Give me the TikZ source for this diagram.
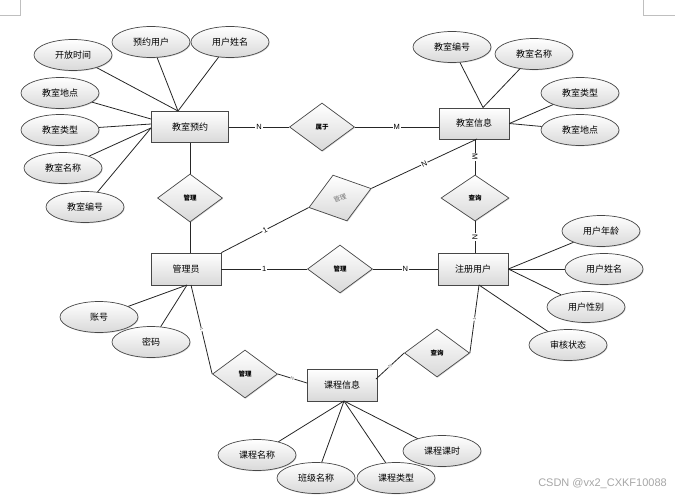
\documentclass[tikz,border=0pt]{standalone}
\usepackage{fontspec}
\setmainfont{Liberation Sans}
\newfontfamily\cjk{Noto Sans CJK SC}
\usetikzlibrary{shapes.geometric,shadows}
\begin{document}
\begin{tikzpicture}[x=1pt,y=-1pt,
  base/.style={draw=black!72, line width=0.7pt, top color=white, bottom color=black!15,
    inner sep=0pt, font=\cjk\fontsize{9}{10}\selectfont,
    drop shadow={shadow xshift=0.8pt, shadow yshift=-0.8pt, opacity=0.3}},
  attr/.style={base, ellipse, minimum width=78pt, minimum height=31pt},
  ent/.style={base, rectangle, minimum width=70pt, minimum height=32pt},
  rel/.style={base, diamond, minimum width=65pt, minimum height=48pt,
    font=\cjk\bfseries\fontsize{6.5}{7}\selectfont},
  conn/.style={draw=black!85, line width=0.8pt},
  lbl/.style={fill=white, inner sep=0.8pt, font=\fontsize{7.5}{8}\selectfont},
  lbls/.style={fill=white, inner sep=0.4pt, font=\fontsize{4.5}{5}\selectfont, text=black!60}
]
\useasboundingbox (0,0) rectangle (675,499);

% page corner marks
\draw[black!25, line width=0.6pt] (0,15) -- (20.5,15) -- (20.5,0);
\draw[black!25, line width=0.6pt] (675,15) -- (643,15) -- (643,0);

% entities
\node[ent, minimum width=77pt, minimum height=31pt] (yy) at (190,127) {教室预约};
\node[ent, minimum height=31pt] (xx) at (474,123.5) {教室信息};
\node[ent] (gly) at (186,269) {管理员};
\node[ent] (zc) at (473,269) {注册用户};
\node[ent] (kc) at (342,385) {课程信息};

% relationships
\node[rel] (sy) at (322,127) {属于};
\node[rel] (gl1) at (190,198) {管理};
\node[rel, rotate=17, text=black!55, font=\cjk\fontsize{6.5}{7}\selectfont] (gl2) at (340,198) {管理};
\node[rel, minimum width=68pt, minimum height=46pt] (cx1) at (475,198) {查询};
\node[rel] (gl3) at (340,269) {管理};
\node[rel] (gl4) at (245,374) {管理};
\node[rel] (cx2) at (437,353) {查询};

% attributes of 教室预约
\node[attr] (a1) at (73,55) {开放时间};
\node[attr] (a2) at (151,42) {预约用户};
\node[attr] (a3) at (230,42) {用户姓名};
\node[attr] (a4) at (60,93) {教室地点};
\node[attr] (a5) at (60,130) {教室类型};
\node[attr] (a6) at (63,168) {教室名称};
\node[attr] (a7) at (85,207) {教室编号};

% attributes of 教室信息
\node[attr] (b1) at (452,47) {教室编号};
\node[attr] (b2) at (534,54) {教室名称};
\node[attr] (b3) at (580,93) {教室类型};
\node[attr] (b4) at (580,130) {教室地点};

% attributes of 注册用户
\node[attr] (c1) at (601,231) {用户年龄};
\node[attr] (c2) at (604,269) {用户姓名};
\node[attr] (c3) at (586,307) {用户性别};
\node[attr] (c4) at (568,345) {审核状态};

% attributes of 管理员
\node[attr] (d1) at (99,317) {账号};
\node[attr] (d2) at (151,342) {密码};

% attributes of 课程信息
\node[attr] (e1) at (257,455) {课程名称};
\node[attr] (e2) at (316,478) {班级名称};
\node[attr] (e3) at (396,478) {课程类型};
\node[attr] (e4) at (442,451) {课程课时};

% watermark
\node[font=\fontsize{11}{12}\selectfont, text=black!35, anchor=east, inner sep=0pt] (wm) at (667,484) {CSDN @vx2\_CXKF10088};

% connection points
\coordinate (yyT) at (178,111);
\coordinate (yyL1) at (151,119);
\coordinate (yyL2) at (151,124);
\coordinate (yyL3) at (151,128);
\coordinate (xxT) at (483,107.5);
\coordinate (xxB) at (477,139);
\coordinate (glyB) at (187,285);
\coordinate (glyB2) at (191,285);
\coordinate (zcB) at (479,285);
\coordinate (kcB) at (344,401);
\coordinate (kcL) at (307,383);
\coordinate (kcR) at (376,379);

% attribute lines
\draw[conn] (a1) -- (yyT);
\draw[conn] (a2) -- (yyT);
\draw[conn] (a3) -- (yyT);
\draw[conn] (a4) -- (yyL1);
\draw[conn] (a5) -- (yyL2);
\draw[conn] (a6) -- (yyL3);
\draw[conn] (a7) -- (yyL3);
\draw[conn] (b1) -- (xxT);
\draw[conn] (b2) -- (xxT);
\draw[conn] (b3) -- (xx.east);
\draw[conn] (b4) -- (xx.east);
\draw[conn] (c1) -- (zc.east);
\draw[conn] (c2) -- (zc.east);
\draw[conn] (c3) -- (zc.east);
\draw[conn] (c4) -- (zcB);
\draw[conn] (d1) -- (glyB);
\draw[conn] (d2) -- (glyB);
\draw[conn] (e1) -- (kcB);
\draw[conn] (e2) -- (kcB);
\draw[conn] (e3) -- (kcB);
\draw[conn] (e4) -- (kcB);

% relationship lines
\draw[conn] (yy) -- node[lbl]{N} (sy);
\draw[conn] (sy.east) -- node[lbl]{M} (sy.east -| xx.west);
\draw[conn] (yy.south -| gl1) -- (gl1.north);
\draw[conn] (gl1.south) -- (gl1.south |- gly.north);
\draw[conn] (gly.north east) -- node[lbl, sloped]{1} (gl2.west);
\draw[conn] (gl2.east) -- node[lbl, sloped]{N} (xxB);
\draw[conn] (xx.south -| cx1) -- node[lbl, sloped]{M} (cx1.north);
\draw[conn] (cx1.south) -- node[lbl, sloped]{N} (cx1.south |- zc.north);
\draw[conn] (gly) -- node[lbl]{1} (gl3);
\draw[conn] (gl3) -- node[lbl]{N} (zc);
\draw[conn] (glyB2) -- node[lbls, sloped]{1} (gl4.west);
\draw[conn] (gl4.east) -- node[lbls, sloped]{N} (kcL);
\draw[conn] (cx2.west) -- node[lbls, sloped]{N} (kcR);
\draw[conn] (cx2.east) -- node[lbls, sloped]{1} (zcB);
\end{tikzpicture}
\end{document}
